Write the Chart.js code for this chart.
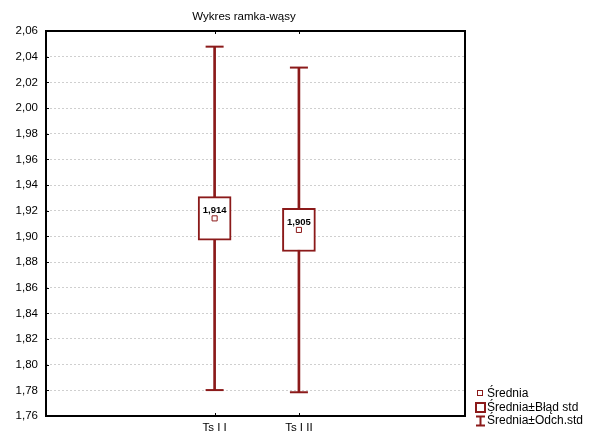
<!DOCTYPE html>
<html>
<head>
<meta charset="utf-8">
<script src="https://cdn.jsdelivr.net/npm/chart.js@4/dist/chart.umd.min.js"></script>
<style>
html,body{margin:0;padding:0;background:#fff;}
#wrap{width:593px;height:439px;}
</style>
</head>
<body>
<div id="wrap"><canvas id="c" width="593" height="439"></canvas></div>
<script>
const title = 'Wykres ramka-wąsy';
const categories = ['Ts I I', 'Ts I II'];
const catPositions = [1, 2];
const means = [1.914, 1.905];
const stdErr = [0.0169, 0.0168];
const stdDev = [0.1338, 0.1265];
const yTicks = [1.76,1.78,1.80,1.82,1.84,1.86,1.88,1.90,1.92,1.94,1.96,1.98,2.00,2.02,2.04,2.06];
const legendLabels = ['Średnia', 'Średnia±Błąd std', 'Średnia±Odch.std'];

const RED = '#8B1A1A';
const FONT = 'Liberation Sans, Arial, sans-serif';
const fmt = v => v.toFixed(2).replace('.', ',');

const whiskerData = catPositions.map((x,i)=>({x, y:[means[i]-stdDev[i], means[i]+stdDev[i]]}));
const boxData = catPositions.map((x,i)=>({x, y:[means[i]-stdErr[i], means[i]+stdErr[i]]}));
const capData = [];
catPositions.forEach((x,i)=>{ capData.push({x, y:means[i]-stdDev[i]}); capData.push({x, y:means[i]+stdDev[i]}); });
const meanData = catPositions.map((x,i)=>({x, y:means[i]}));

const decor = {
  id:'decor',
  beforeDatasetsDraw(chart){
    const {ctx, chartArea:a, scales:{x,y}} = chart;
    ctx.save();
    ctx.strokeStyle = '#000'; ctx.lineWidth = 1;
    yTicks.forEach(v=>{
      const py = Math.round(y.getPixelForValue(v))+0.5;
      ctx.beginPath(); ctx.moveTo(a.left, py); ctx.lineTo(a.left+3, py); ctx.stroke();
    });
    catPositions.forEach(v=>{
      const px = Math.round(x.getPixelForValue(v))+0.5;
      ctx.beginPath(); ctx.moveTo(px, a.bottom); ctx.lineTo(px, a.bottom-3); ctx.stroke();
      ctx.beginPath(); ctx.moveTo(px, a.top); ctx.lineTo(px, a.top+3); ctx.stroke();
    });
    ctx.restore();
  },
  afterDatasetsDraw(chart){
    const {ctx, chartArea:a, scales:{x,y}} = chart;
    ctx.save();
    ctx.strokeStyle = '#000'; ctx.lineWidth = 2;
    ctx.strokeRect(a.left, a.top, a.right-a.left, a.bottom-a.top);
    ctx.fillStyle = '#000';
    ctx.font = 'bold 9.5px ' + FONT;
    ctx.textAlign = 'center'; ctx.textBaseline = 'middle';
    catPositions.forEach((v,i)=>{
      ctx.fillText(means[i].toFixed(3).replace('.', ','), x.getPixelForValue(v), y.getPixelForValue(means[i]) - 7.5);
    });
    ctx.font = '11.5px ' + FONT;
    ctx.fillText(title, 244, 17);
    ctx.textAlign = 'left';
    ctx.font = '12px ' + FONT;
    const tx = 487;
    const ly = [393, 407, 420.5];
    legendLabels.forEach((t,i)=>{ ctx.fillStyle='#000'; ctx.fillText(t, tx, ly[i]+0.5); });
    ctx.strokeStyle = RED;
    ctx.lineWidth = 1;
    ctx.strokeRect(477.5, 390.5, 5, 5);
    ctx.lineWidth = 2;
    ctx.strokeRect(476, 403, 9, 9);
    ctx.beginPath();
    ctx.moveTo(476, 416.5); ctx.lineTo(485, 416.5);
    ctx.moveTo(480.5, 416.5); ctx.lineTo(480.5, 425.5);
    ctx.moveTo(476, 425.5); ctx.lineTo(485, 425.5);
    ctx.stroke();
    ctx.restore();
  }
};

new Chart(document.getElementById('c'), {
  type:'bar',
  plugins:[decor],
  data:{
    datasets:[
      {type:'bar', data:whiskerData, backgroundColor:RED, borderWidth:0, barThickness:2, grouped:false, order:4},
      {type:'scatter', data:capData, pointStyle:'line', radius:9, borderColor:RED, borderWidth:2, order:3},
      {type:'bar', data:boxData, backgroundColor:'#fff', borderColor:RED, borderWidth:2, borderSkipped:false, barThickness:33, grouped:false, order:2},
      {type:'scatter', data:meanData, pointStyle:'rect', radius:3.6, backgroundColor:'#fff', borderColor:RED, borderWidth:1, order:1}
    ]
  },
  options:{
    responsive:false, animation:false, events:[],
    layout:{padding:{left:0, top:31, right:128, bottom:0}},
    plugins:{legend:{display:false}, title:{display:false}, tooltip:{enabled:false}},
    scales:{
      x:{type:'linear', min:-1, max:3.97, offset:false,
        afterBuildTicks(s){ s.ticks = catPositions.map(v=>({value:v})); },
        afterFit(s){ s.height = 23; },
        grid:{display:false, drawTicks:false}, border:{display:false},
        ticks:{padding:5, color:'#000', font:{family:FONT, size:11.5}, maxRotation:0, autoSkip:false,
          callback:(v)=>{ const i = catPositions.indexOf(v); return i>=0 ? categories[i] : ''; }}
      },
      y:{type:'linear', min:1.76, max:2.06,
        afterBuildTicks(s){ s.ticks = yTicks.map(v=>({value:v})); },
        afterFit(s){ s.width = 46; },
        grid:{color:'#cfcfcf', lineWidth:1, drawTicks:false},
        border:{display:false, dash:[2,2]},
        ticks:{padding:8, color:'#000', font:{family:FONT, size:11.5}, callback:v=>fmt(v)}
      }
    }
  }
});
</script>
</body>
</html>
